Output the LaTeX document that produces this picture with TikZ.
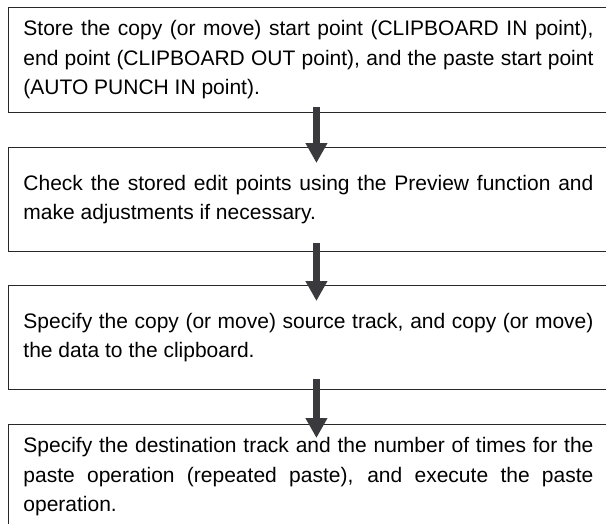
\documentclass[tikz,border=0pt]{standalone}
\usepackage{fontspec}
\setmainfont{Liberation Sans}
\usetikzlibrary{arrows.meta,calc}
\definecolor{boxline}{RGB}{40,40,40}
\definecolor{arrowgray}{RGB}{58,58,62}
\tolerance=9999
\hbadness=10000
\begin{document}
\begin{tikzpicture}[x=1pt,y=1pt,
  box/.style={draw=boxline, line width=0.9pt, anchor=north west,
    text width=570pt, align=justify, inner xsep=15pt, inner ysep=0pt,
    minimum height=105pt,
    font=\fontsize{21}{29.5}\selectfont,
    text=black},
  flow/.style={draw=arrowgray, line width=6.7pt,
    -{Triangle[length=20pt,width=20.7pt]}}]
\useasboundingbox (0,0) rectangle (606,-523);
\node[box] (b1) at (8,-7) {Store the copy (or move) start point (CLIPBOARD IN point),\linebreak end point (CLIPBOARD OUT point), and the paste start point\linebreak (AUTO PUNCH IN point).};
\node[box, minimum height=104pt] (b2) at (8,-147) {Check the stored edit points using the Preview function and\linebreak make adjustments if necessary.};
\node[box, minimum height=104pt] (b3) at (8,-285) {Specify the copy (or move) source track, and copy (or move)\linebreak the data to the clipboard.};
\node[box] (b4) at (8,-424) {Specify the destination track and the number of times for the\linebreak paste operation (repeated paste), and execute the paste\linebreak operation.};
\draw[flow] ($(b1.south)+(8,6)$) -- ($(b2.north)+(8,-16)$);
\draw[flow] ($(b2.south)+(8,9)$) -- ($(b3.north)+(8,-16)$);
\draw[flow] ($(b3.south)+(8,11)$) -- ($(b4.north)+(8,-14)$);
\end{tikzpicture}
\end{document}
